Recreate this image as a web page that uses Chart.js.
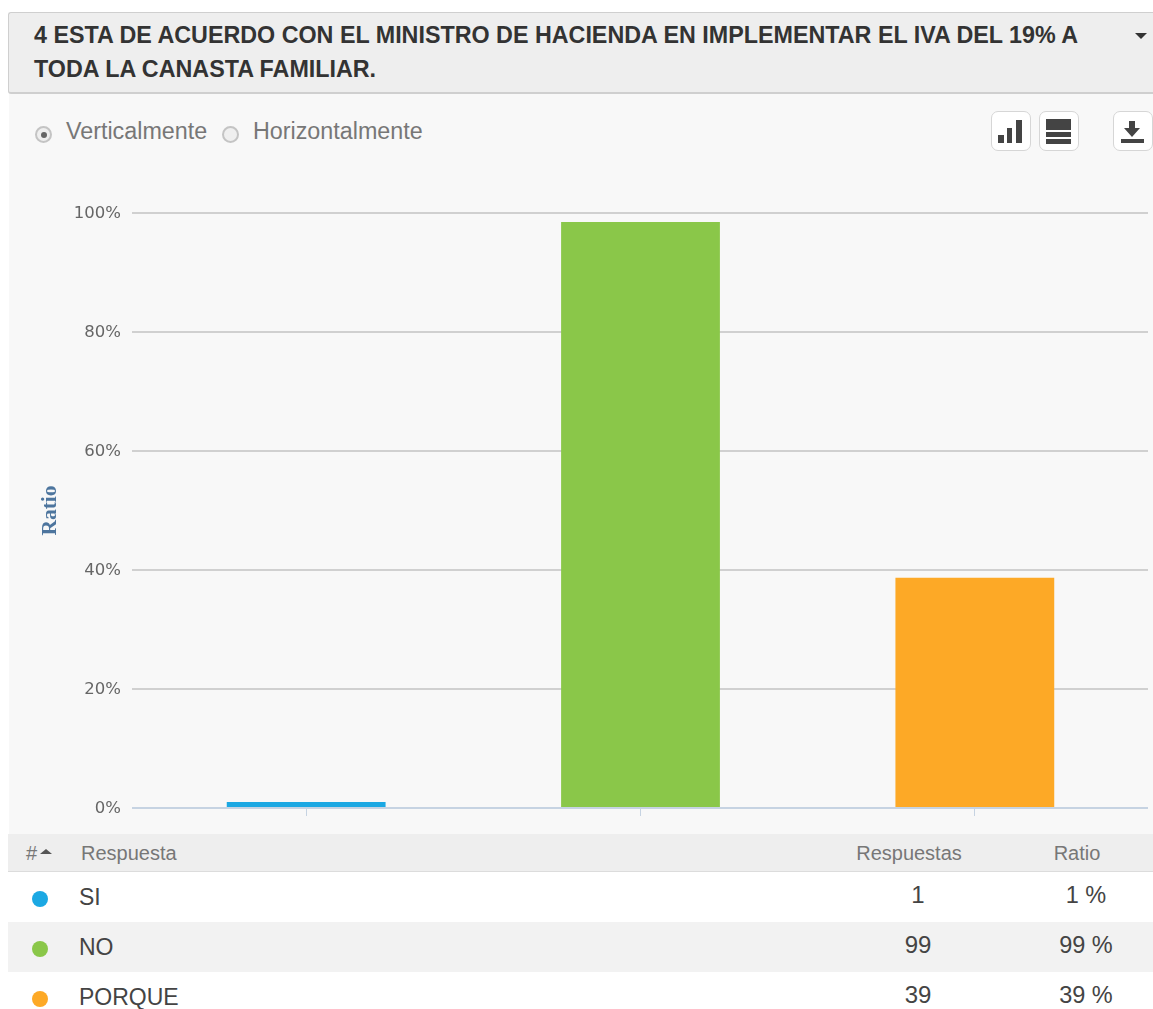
<!DOCTYPE html>
<html lang="es">
<head>
<meta charset="utf-8">
<title>Encuesta</title>
<script src="https://cdn.jsdelivr.net/npm/chart.js@4/dist/chart.umd.min.js"></script>
<style>
  html, body { margin: 0; padding: 0; background: #fff; }
  body { position: relative; width: 1153px; height: 1009px; overflow: hidden; font-family: "Liberation Sans", Arial, sans-serif; }
  #question {
    position: absolute; left: 8px; top: 12px; width: 1145px; height: 79px; box-sizing: content-box;
    background: #eeeeee; border: 1px solid #cfcfcf; border-bottom: 2px solid #cfcfcf; border-right: 0; border-radius: 3px 0 0 3px;
  }
  #question .text {
    position: absolute; left: 25px; top: 5px; width: 1060px; color: #333;
    font-weight: bold; font-size: 23.3px; line-height: 34px;
  }
  #question .caret {
    position: absolute; left: 1126px; top: 20px; width: 0; height: 0;
    border-left: 6px solid transparent; border-right: 6px solid transparent; border-top: 6px solid #333;
  }
  #panel { position: absolute; left: 9px; top: 93px; width: 1144px; height: 741px; background: #f8f8f8; }
  .option { position: absolute; top: 117px; color: #777; font-size: 23.3px; line-height: 28px; }
  .radio { position: absolute; top: 126px; width: 17px; height: 17px; box-sizing: border-box; border-radius: 50%; border: 2px solid #c4c4c4; background: #efefef; }
  .radio.on::after { content: ""; position: absolute; left: 3.5px; top: 3.5px; width: 6px; height: 6px; border-radius: 50%; background: #666; }
  .iconbtn { position: absolute; top: 111px; width: 40px; height: 40px; box-sizing: border-box; background: #fff; border: 1px solid #d6d6d6; border-radius: 7px; }
  .iconbtn svg { position: absolute; left: -1px; top: -1px; }
  #chartBox { position: absolute; left: 9px; top: 170px; width: 1144px; height: 664px; }
  #answers { position: absolute; left: 8px; top: 834px; width: 1145px; }
  #answers .row { position: relative; }
  #answers .head { height: 37px; background: #eeeeee; border-bottom: 1px solid #dcdcdc; color: #777; font-size: 20px; line-height: 38px; }
  #answers .body { height: 50px; color: #444; font-size: 23px; line-height: 50px; }
  #answers .row span { position: absolute; white-space: nowrap; }
  #answers .dot { left: 24px; top: 19px; width: 16px; height: 16px; border-radius: 50%; }
  #answers .head .sort { left: 18px; }
  #answers .head .sort i { position: absolute; left: 14px; top: 15px; width: 0; height: 0; border-left: 6px solid transparent; border-right: 6px solid transparent; border-bottom: 5px solid #555; }
  .c1 { left: 71px; }
  .head .c1 { left: 73px; }
  .c2, .c3 { width: 260px; text-align: center; }
  .head .c2 { left: 771px; }
  .head .c3 { left: 939px; }
  .body .c2 { left: 780px; top: -2px; font-size: 24px; }
  .body .c3 { left: 948px; top: -2px; font-size: 23.5px; }
</style>
</head>
<body>
<div id="panel"></div>
<div id="question">
  <div class="text">4 ESTA DE ACUERDO CON EL MINISTRO DE HACIENDA EN IMPLEMENTAR EL IVA DEL 19% A TODA LA CANASTA FAMILIAR.</div>
  <div class="caret"></div>
</div>

<div class="radio on" style="left:35px"></div>
<div class="option" style="left:66px">Verticalmente</div>
<div class="radio" style="left:222px"></div>
<div class="option" style="left:253px">Horizontalmente</div>

<div class="iconbtn" style="left:991px"><svg width="40" height="40" fill="#444"><rect x="7" y="24" width="6" height="8"/><rect x="16" y="17" width="5" height="15"/><rect x="25" y="9" width="6" height="23"/></svg></div>
<div class="iconbtn" style="left:1039px"><svg width="40" height="40" fill="#444"><rect x="7" y="8" width="25" height="11"/><rect x="7" y="21" width="25" height="5"/><rect x="7" y="28" width="25" height="5"/></svg></div>
<div class="iconbtn" style="left:1113px"><svg width="40" height="40" fill="#444"><path d="M16 10h6v7h5l-8 9-8-9h5z"/><rect x="8" y="28" width="23" height="4"/></svg></div>

<div id="chartBox"><canvas id="ratioChart"></canvas></div>
<div id="answers"></div>

<script>
const categories = ["SI", "NO", "PORQUE"];
const barRatios = [1, 98.5, 38.7];
const responseCounts = [1, 99, 39];
const responseRatios = ["1 %", "99 %", "39 %"];
const barColors = ["#1ba8e3", "#8ac749", "#fda926"];
const yTickLabels = ["0%", "20%", "40%", "60%", "80%", "100%"];

const gridColor = "#d0d0d0";
const axisColor = "#c6d3e2";

// highcharts-style grid lines run a little past the plot on the right
const gridOverhang = {
  id: "gridOverhang",
  beforeDatasetsDraw(chart) {
    const { ctx, chartArea, scales } = chart;
    ctx.save();
    ctx.lineWidth = 2;
    scales.y.ticks.forEach(function (tick) {
      const y = scales.y.getPixelForValue(tick.value);
      ctx.strokeStyle = tick.value === 0 ? axisColor : gridColor;
      ctx.beginPath();
      ctx.moveTo(chartArea.right, y);
      ctx.lineTo(chartArea.right + 6, y);
      ctx.stroke();
    });
    ctx.restore();
  },
};

new Chart(document.getElementById("ratioChart"), {
  type: "bar",
  data: {
    labels: categories,
    datasets: [
      {
        label: "Ratio",
        data: barRatios,
        backgroundColor: barColors,
        categoryPercentage: 1,
        barPercentage: 0.475,
      },
    ],
  },
  plugins: [gridOverhang],
  options: {
    responsive: true,
    maintainAspectRatio: false,
    animation: false,
    devicePixelRatio: 1,
    layout: { padding: { top: 43, right: 11, left: 0, bottom: 0 } },
    plugins: { legend: { display: false } },
    scales: {
      x: {
        afterFit(scale) { scale.height = 26; },
        border: { color: axisColor, width: 2 },
        grid: { offset: false, drawOnChartArea: false, drawTicks: true, tickLength: 8, color: axisColor },
        ticks: { display: false },
      },
      y: {
        min: 0,
        max: 100,
        afterFit(scale) { scale.width = 130; },
        border: { display: false },
        grid: {
          lineWidth: 2,
          tickLength: 7,
          color(context) { return context.tick.value === 0 ? axisColor : gridColor; },
        },
        ticks: {
          stepSize: 20,
          padding: 11,
          labelOffset: 1,
          color: "#666",
          font: { family: "'DejaVu Sans'", size: 16.5 },
          callback(value) { return yTickLabels[value / 20]; },
        },
        title: {
          display: true,
          text: "Ratio",
          color: "#4d759e",
          padding: { top: 29, bottom: 0 },
          font: { family: "'Liberation Serif'", size: 21.5, weight: "bold" },
        },
      },
    },
  },
});

// table under the chart
const answers = document.getElementById("answers");
answers.innerHTML =
  '<div class="row head"><span class="sort">#<i></i></span><span class="c1">Respuesta</span>' +
  '<span class="c2">Respuestas</span><span class="c3">Ratio</span></div>';
categories.forEach(function (name, i) {
  const row = document.createElement("div");
  row.className = "row body";
  row.style.background = i % 2 === 1 ? "#f2f2f2" : "#fff";
  row.innerHTML =
    '<span class="dot" style="background:' + barColors[i] + '"></span>' +
    '<span class="c1">' + name + "</span>" +
    '<span class="c2">' + responseCounts[i] + "</span>" +
    '<span class="c3">' + responseRatios[i] + "</span>";
  answers.appendChild(row);
});
</script>
</body>
</html>
